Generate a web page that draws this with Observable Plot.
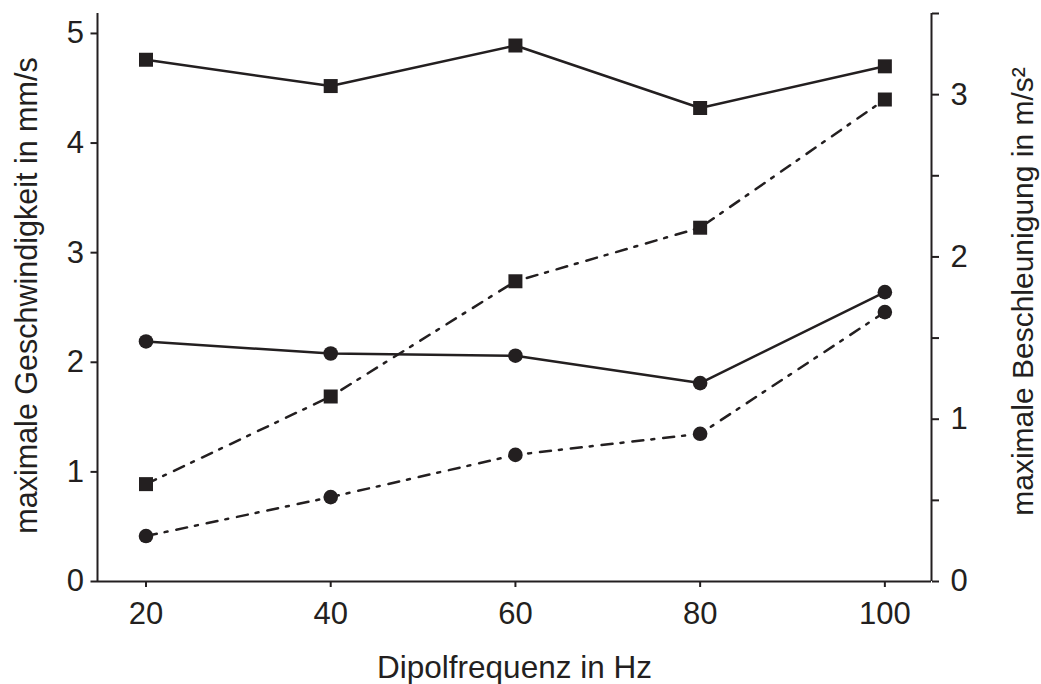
<!DOCTYPE html>
<html>
<head>
<meta charset="utf-8">
<script src="https://cdn.jsdelivr.net/npm/d3@7"></script>
<script src="https://cdn.jsdelivr.net/npm/@observablehq/plot@0.6"></script>
<style>
  html, body { margin: 0; padding: 0; background: #fff; }
  #chart svg { display: block; }
</style>
</head>
<body>
<div id="chart"></div>
<script>
// ---- data ----
const freq = [20, 40, 60, 80, 100];                 // Dipolfrequenz in Hz
const velSquare = [4.76, 4.52, 4.89, 4.32, 4.70];   // max. Geschwindigkeit (mm/s), squares, solid
const velCircle = [2.19, 2.08, 2.06, 1.81, 2.64];   // max. Geschwindigkeit (mm/s), circles, solid
const accSquare = [0.60, 1.14, 1.85, 2.18, 2.97];   // max. Beschleunigung (m/s²), squares, dash-dot
const accCircle = [0.28, 0.52, 0.78, 0.91, 1.66];   // max. Beschleunigung (m/s²), circles, dash-dot

const xTicks = [20, 40, 60, 80, 100];
const leftTicks = [0, 1, 2, 3, 4, 5];
const rightTicks = [0, 0.5, 1, 1.5, 2, 2.5, 3, 3.5];

const xTitle = "Dipolfrequenz in Hz";
const leftTitle = "maximale Geschwindigkeit in mm/s";
const rightTitle = "maximale Beschleunigung in m/s²";

// ---- scales ----
const leftMax = 5.182;
const rightMax = 3.5;
const k = leftMax / rightMax; // right-axis units -> left-axis units

const ink = "#231f20";
const font = "'Liberation Sans', Arial, Helvetica, sans-serif";

const rows = (ys, series, scale) => freq.map((f, i) => ({f, v: ys[i] * scale, series}));
const vS = rows(velSquare, "vS", 1);
const vC = rows(velCircle, "vC", 1);
const aS = rows(accSquare, "aS", k);
const aC = rows(accCircle, "aC", k);

const dash = "11,8,3,9";

const chart = Plot.plot({
  width: 1041,
  height: 684,
  marginLeft: 97,
  marginRight: 110,
  marginTop: 13,
  marginBottom: 103,
  style: {fontFamily: font, fontSize: "30px", color: ink, background: "#fff"},
  x: {domain: [14.75, 105.05]},
  y: {domain: [0, leftMax]},
  marks: [
    // frame: left, right, bottom
    Plot.ruleX([14.75], {stroke: ink, strokeWidth: 2}),
    Plot.ruleX([105.05], {stroke: ink, strokeWidth: 2}),
    Plot.ruleY([0], {stroke: ink, strokeWidth: 2}),
    Plot.axisX({ticks: xTicks, tickSize: 6, tickPadding: 14, tickFormat: d => String(d),
      stroke: ink, strokeWidth: 2, fill: ink, fontSize: 31, label: null}),
    Plot.axisY({anchor: "left", ticks: leftTicks, tickSize: 6.5, tickPadding: 7, tickFormat: d => String(d),
      stroke: ink, strokeWidth: 2, fill: ink, fontSize: 31, label: null}),
    Plot.axisY({anchor: "right", ticks: rightTicks.map(t => t * k), tickSize: 7, tickPadding: 12,
      tickFormat: d => { const v = Math.round(d / k * 2) / 2; return Number.isInteger(v) ? String(v) : ""; },
      stroke: ink, strokeWidth: 2, fill: ink, fontSize: 31, label: null}),
    // series lines
    Plot.line(vS, {x: "f", y: "v", stroke: ink, strokeWidth: 2.5}),
    Plot.line(vC, {x: "f", y: "v", stroke: ink, strokeWidth: 2.5}),
    Plot.line(aS, {x: "f", y: "v", stroke: ink, strokeWidth: 2.5, strokeDasharray: dash}),
    Plot.line(aC, {x: "f", y: "v", stroke: ink, strokeWidth: 2.5, strokeDasharray: dash}),
    // markers
    Plot.dot(vS, {x: "f", y: "v", symbol: "square", r: 7.9, fill: ink}),
    Plot.dot(aS, {x: "f", y: "v", symbol: "square", r: 7.9, fill: ink}),
    Plot.dot(vC, {x: "f", y: "v", symbol: "circle", r: 7.3, fill: ink}),
    Plot.dot(aC, {x: "f", y: "v", symbol: "circle", r: 7.3, fill: ink}),
    // axis titles
    Plot.text([xTitle], {text: d => d, frameAnchor: "bottom", dy: 96, lineAnchor: "bottom",
      textAnchor: "middle", fill: ink, fontSize: 31.5}),
    Plot.text([leftTitle], {text: d => d, frameAnchor: "left", dx: -61, dy: -2, rotate: -90,
      textAnchor: "middle", lineAnchor: "bottom", fill: ink, fontSize: 30.5}),
    Plot.text([rightTitle], {text: d => d, frameAnchor: "right", dx: 101, dy: -6, rotate: -90,
      textAnchor: "middle", lineAnchor: "bottom", fill: ink, fontSize: 30})
  ]
});
document.getElementById("chart").appendChild(chart);
</script>
</body>
</html>
